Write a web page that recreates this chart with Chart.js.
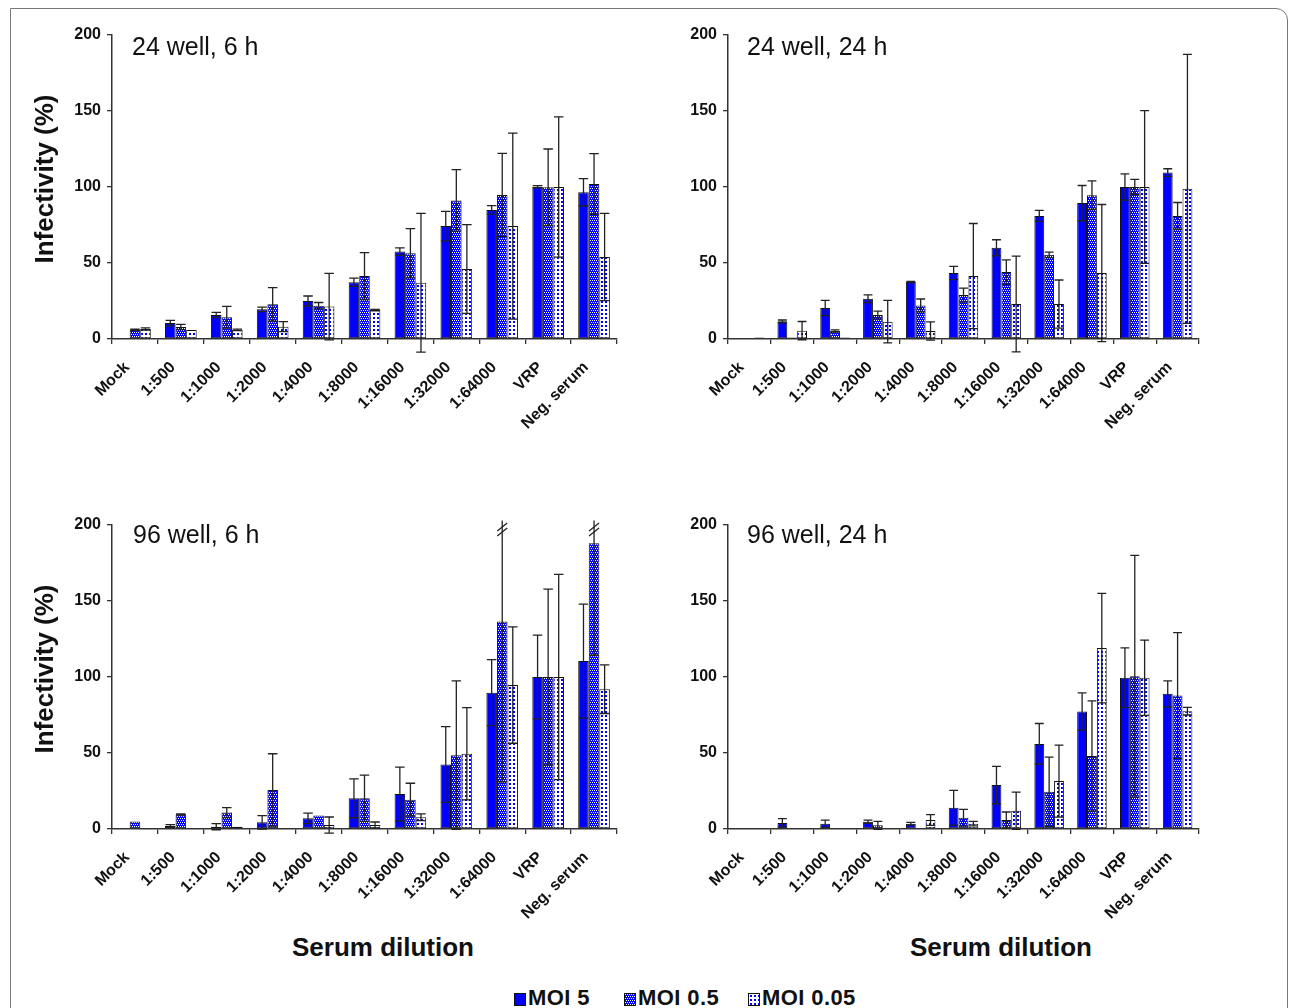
<!DOCTYPE html>
<html>
<head>
<meta charset="utf-8">
<script src="https://cdn.jsdelivr.net/npm/chart.js@4.4.1/dist/chart.umd.min.js"></script>
<style>
  body { margin: 0; background: #fff; width: 1290px; height: 1008px; overflow: hidden; position: relative;
         font-family: "Liberation Sans", Arial, sans-serif; color: #111; }
  #frame { position: absolute; left: 10px; top: 8px; width: 1276px; height: 1030px;
           border: 1.5px solid #777; border-top-right-radius: 12px; }
  canvas { position: absolute; }
  .ptitle { position: absolute; font-size: 25px; line-height: 25px; white-space: nowrap; }
  .ytitle { position: absolute; left: -56px; width: 200px; text-align: center; font-size: 26px; line-height: 26px;
            font-weight: bold; transform: rotate(-90deg); white-space: nowrap; }
  .xtitle { position: absolute; top: 934px; width: 400px; text-align: center; font-size: 26px;
            line-height: 26px; font-weight: bold; }
  .leg { position: absolute; top: 987px; font-size: 22px; line-height: 22px; font-weight: bold; white-space: nowrap; letter-spacing: 0.4px; }
  .sw { position: absolute; top: 993px; width: 10px; height: 11px; border: 1px solid #111; }
</style>
</head>
<body>
<div id="frame"></div>

<canvas id="c1" width="640" height="460" style="left:0;top:0"></canvas>
<canvas id="c2" width="650" height="460" style="left:640px;top:0"></canvas>
<canvas id="c3" width="640" height="440" style="left:0;top:490px"></canvas>
<canvas id="c4" width="650" height="440" style="left:640px;top:490px"></canvas>

<div class="ytitle" style="top:166px">Infectivity (%)</div>
<div class="ytitle" style="top:656px">Infectivity (%)</div>

<div class="ptitle" style="left:132px;top:34px">24 well, 6 h</div>
<div class="ptitle" style="left:747px;top:34px">24 well, 24 h</div>
<div class="ptitle" style="left:133px;top:522px">96 well, 6 h</div>
<div class="ptitle" style="left:747px;top:522px">96 well, 24 h</div>

<div class="xtitle" style="left:183px">Serum dilution</div>
<div class="xtitle" style="left:801px">Serum dilution</div>

<span class="sw" id="sw1" style="left:514px"></span><span class="leg" style="left:528px">MOI 5</span>
<span class="sw" id="sw2" style="left:624px"></span><span class="leg" style="left:638px">MOI 0.5</span>
<span class="sw" id="sw3" style="left:748px"></span><span class="leg" style="left:762px">MOI 0.05</span>

<script>
const categories = ['Mock', '1:500', '1:1000', '1:2000', '1:4000', '1:8000', '1:16000', '1:32000', '1:64000', 'VRP', 'Neg. serum'];
const seriesNames = ['MOI 5', 'MOI 0.5', 'MOI 0.05'];
const yTicks = [0, 50, 100, 150, 200];

// 24 well, 6 h
const w24h6Moi5 = [0, 10.5, 15.8, 19.5, 25, 37.3, 57.5, 74.3, 84.9, 100.2, 96.5];
const w24h6Moi5Err = [0, 1.8, 1.7, 1.5, 3.3, 2.7, 2.5, 9.7, 2.8, 0.7, 9];
const w24h6Moi05 = [6, 7.9, 14.3, 22.8, 21.9, 41.4, 56.4, 91.2, 94.7, 99.8, 102];
const w24h6Moi05Err = [0.4, 1.7, 7.2, 11, 2.1, 15.4, 16.2, 20.2, 27.4, 25.2, 20];
const w24h6Moi005 = [6.6, 6, 6, 8.1, 21.3, 19, 37, 46, 74.3, 100, 54];
const w24h6Moi005Err = [0.7, 0, 0.5, 3.3, 21.9, 0.5, 45.7, 29.2, 61.2, 46.1, 28.7];

// 24 well, 24 h
const w24h24Moi5 = [0, 11.6, 20.4, 26.5, 37.5, 43.4, 60, 81, 89.4, 100, 109.5];
const w24h24Moi5Err = [0, 0.9, 5, 2.5, 0.4, 4.4, 5.3, 3.6, 11.6, 8.7, 2.5];
const w24h24Moi05 = [0, 1, 5.3, 15.8, 22.1, 28.9, 44, 55.4, 94.6, 100, 81];
const w24h24Moi05Err = [0, 0, 0.7, 2.6, 4.2, 4.6, 8, 1.8, 9.4, 5, 8.8];
const w24h24Moi005 = [1, 5.5, 1, 11.4, 5.3, 41.4, 23, 23, 43.4, 100, 98.8];
const w24h24Moi005Err = [0, 6, 0, 14, 6, 34.6, 31.5, 15.8, 45.1, 50.3, 88.5];

// 96 well, 6 h
const w96h6Moi5 = [0, 2, 1.5, 4.4, 7, 20.2, 23, 42.4, 89.7, 100, 110.5];
const w96h6Moi5Err = [0, 0.9, 2, 4.4, 3.5, 12.8, 17.7, 24.9, 21.7, 27.5, 37.5];
const w96h6Moi05 = [5, 9.5, 10.8, 25.7, 8.8, 20.2, 19.3, 48.6, 136.5, 100, 188];
const w96h6Moi05Err = [0, 0.4, 3.3, 23.8, 0, 15.2, 10.8, 48.8, 105.5, 57.8, 73.7];
const w96h6Moi005 = [0.7, 0.7, 1.5, 0.7, 2.6, 2.6, 7.7, 49.5, 94.7, 100, 92];
const w96h6Moi005Err = [0, 0, 0, 0, 5.3, 2, 2.2, 30.3, 38.3, 67.5, 16];

// 96 well, 24 h
const w96h24Moi5 = [0, 4, 3.5, 4.8, 3.5, 14, 28.9, 56, 77.3, 99.5, 88.9];
const w96h24Moi5Err = [0, 2.8, 2.4, 1.1, 0.9, 11.4, 12.3, 13.4, 12.3, 19.7, 8.6];
const w96h24Moi05 = [0, 0, 0, 2.4, 0, 7.4, 5.9, 24.5, 48, 100.5, 87.8];
const w96h24Moi05Err = [0, 0, 0, 2.6, 0, 5.5, 5.3, 22.8, 36.3, 79.5, 41.4];
const w96h24Moi005 = [0, 0, 0, 0, 5.9, 3.5, 12, 31.5, 119, 99.5, 77.5];
const w96h24Moi005Err = [0, 0, 0, 0, 3.5, 1.5, 12.3, 23.7, 36, 24.8, 2.5];

const BLUE = '#0000ff';
const INK = '#111';

// small repeating tiles for the hatched fills
function makeTile(bg, fg, dots) {
    const c = document.createElement('canvas');
    c.width = 4; c.height = 4;
    const g = c.getContext('2d');
    g.fillStyle = bg;
    g.fillRect(0, 0, 4, 4);
    g.fillStyle = fg;
    dots.forEach(d => g.fillRect(d[0], d[1], 1, 1));
    return c;
}
const checkTile = makeTile(BLUE, '#fff', [[0, 0], [2, 0], [1, 2], [3, 2]]);
const dotTile = makeTile('#fff', BLUE, [[1, 1], [2, 1], [1, 2], [2, 2]]);

const probe = document.createElement('canvas').getContext('2d');
const fills = [BLUE, probe.createPattern(checkTile, 'repeat'), probe.createPattern(dotTile, 'repeat')];

document.getElementById('sw1').style.background = BLUE;
document.getElementById('sw2').style.backgroundImage = 'url(' + checkTile.toDataURL() + ')';
document.getElementById('sw3').style.backgroundImage = 'url(' + dotTile.toDataURL() + ')';

// error bars, with a break mark where the bar runs off the top
const errorBars = {
    id: 'errorBars',
    afterDatasetsDraw(chart) {
        const ctx = chart.ctx;
        const y = chart.scales.y;
        const top = y.max;
        ctx.save();
        ctx.strokeStyle = '#222';
        ctx.lineWidth = 1.3;
        chart.data.datasets.forEach((ds, i) => {
            chart.getDatasetMeta(i).data.forEach((bar, j) => {
                const e = ds.errors[j];
                if (!e) return;
                const v = ds.data[j];
                const broken = v + e > top;
                const yHi = y.getPixelForValue(broken ? top + 3 : v + e);
                const yLo = y.getPixelForValue(v - e);
                const x = bar.x, half = bar.width * 0.45;
                ctx.beginPath();
                ctx.moveTo(x, yHi); ctx.lineTo(x, yLo);
                if (!broken) { ctx.moveTo(x - half, yHi); ctx.lineTo(x + half, yHi); }
                ctx.moveTo(x - half, yLo); ctx.lineTo(x + half, yLo);
                ctx.stroke();
                if (broken) {
                    const yb = y.getPixelForValue(top);
                    ctx.beginPath();
                    ctx.moveTo(x - 5, yb + 6); ctx.lineTo(x + 5, yb - 2);
                    ctx.moveTo(x - 5, yb + 11); ctx.lineTo(x + 5, yb + 3);
                    ctx.stroke();
                }
            });
        });
        ctx.restore();
    }
};

function makePanel(id, axisWidth, rightPad, series, errors) {
    const canvas = document.getElementById(id);
    const xHeight = canvas.height - 339;
    new Chart(canvas, {
        type: 'bar',
        data: {
            labels: categories,
            datasets: series.map((vals, k) => ({
                label: seriesNames[k],
                data: vals,
                errors: errors[k],
                backgroundColor: fills[k],
                borderColor: INK,
                borderWidth: 1,
                borderSkipped: false,
                categoryPercentage: 0.69,
                barPercentage: 1.0
            }))
        },
        options: {
            responsive: false,
            animation: false,
            events: [],
            layout: { padding: { top: 35, right: rightPad, left: 0, bottom: 0 } },
            plugins: { legend: { display: false }, tooltip: { enabled: false } },
            scales: {
                x: {
                    grid: { offset: true, drawOnChartArea: false, tickLength: 5, color: '#333', lineWidth: 1.3 },
                    border: { color: '#333', width: 1.5 },
                    ticks: {
                        autoSkip: false, minRotation: 45, maxRotation: 45, padding: 14, labelOffset: -8,
                        color: INK, font: { family: 'Liberation Sans', size: 16, weight: 'bold' }
                    },
                    afterFit: s => { s.height = xHeight; }
                },
                y: {
                    min: 0, max: 200,
                    afterBuildTicks: s => { s.ticks = yTicks.map(v => ({ value: v })); },
                    grid: { drawOnChartArea: false, tickLength: 5, color: '#333', lineWidth: 1.3 },
                    border: { color: '#333', width: 1.5 },
                    ticks: { padding: 6, color: INK, font: { family: 'Liberation Sans', size: 16, weight: 'bold' } },
                    afterFit: s => { s.width = axisWidth; }
                }
            }
        },
        plugins: [errorBars]
    });
}

makePanel('c1', 112, 23,
    [w24h6Moi5, w24h6Moi05, w24h6Moi005], [w24h6Moi5Err, w24h6Moi05Err, w24h6Moi005Err]);
makePanel('c2', 88, 91,
    [w24h24Moi5, w24h24Moi05, w24h24Moi005], [w24h24Moi5Err, w24h24Moi05Err, w24h24Moi005Err]);
makePanel('c3', 112, 23,
    [w96h6Moi5, w96h6Moi05, w96h6Moi005], [w96h6Moi5Err, w96h6Moi05Err, w96h6Moi005Err]);
makePanel('c4', 88, 91,
    [w96h24Moi5, w96h24Moi05, w96h24Moi005], [w96h24Moi5Err, w96h24Moi05Err, w96h24Moi005Err]);
</script>
</body>
</html>
